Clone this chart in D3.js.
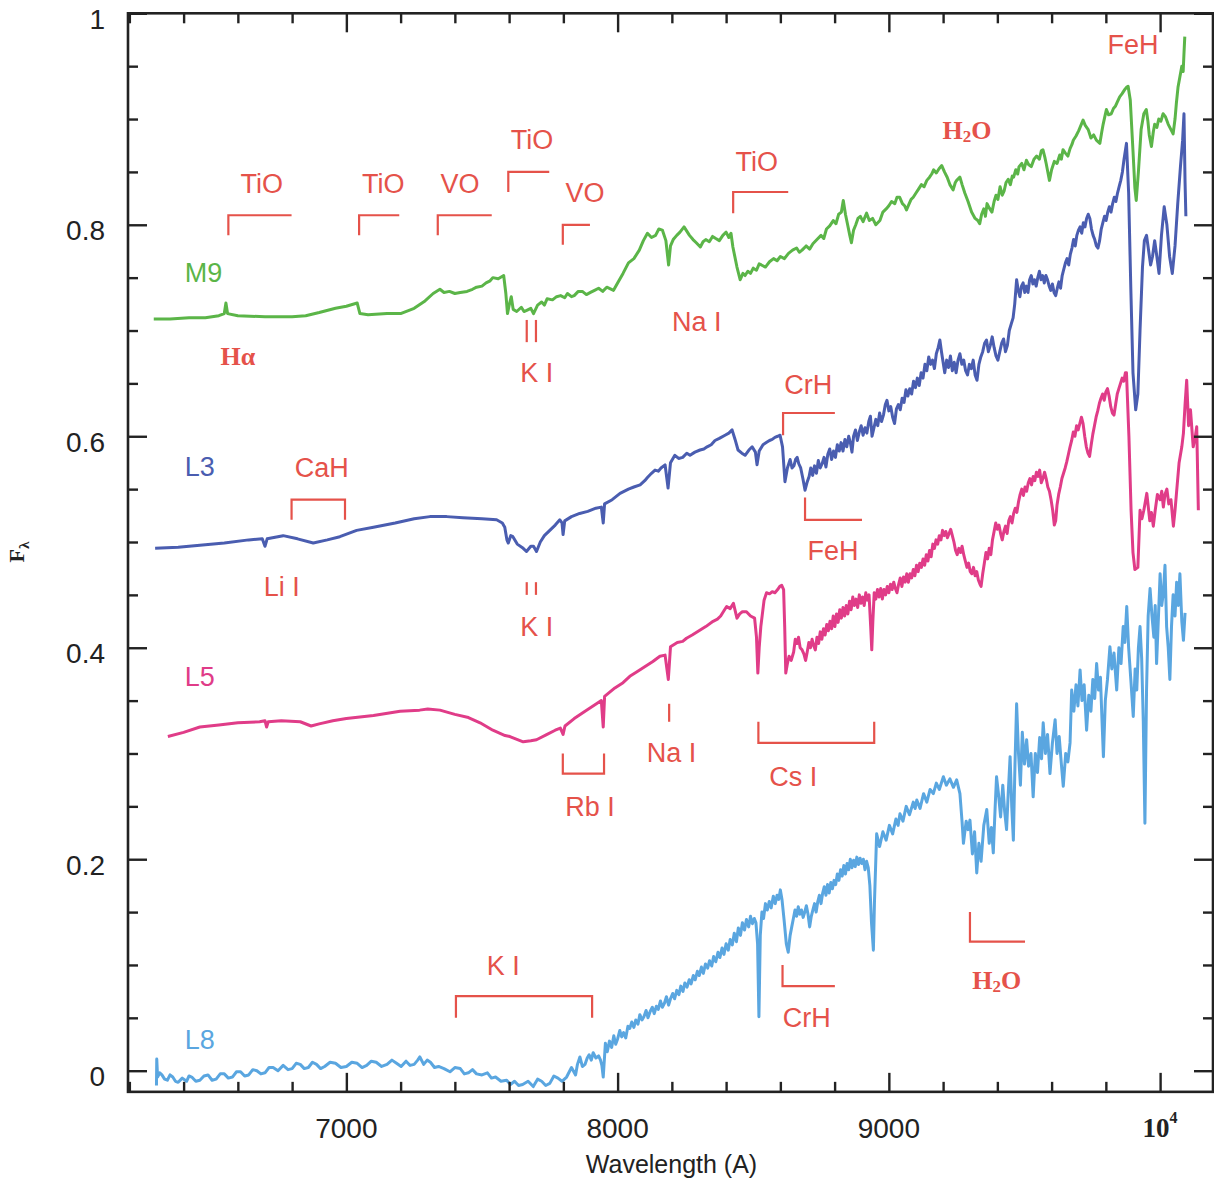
<!DOCTYPE html>
<html><head><meta charset="utf-8">
<script src="https://cdn.jsdelivr.net/npm/d3@7"></script>
<style>
body{margin:0;background:#fff;}
text{font-family:"Liberation Sans",Arial,Helvetica,sans-serif;}
.serif{font-family:"Liberation Serif","Times New Roman",serif;font-weight:bold;}
</style>
</head><body>
<svg id="chart" width="1214" height="1186"></svg>
<script>
// ---------------- data ----------------
const xMajorTicks=[7000,8000,9000,10000];
const xTickLabels=["7000","8000","9000","10^4"];
const yMajorTicks=[0,0.2,0.4,0.6,0.8,1];
const yTickLabels=["0","0.2","0.4","0.6","0.8","1"];
const xTitle="Wavelength (A)";
const seriesNames=["M9","L3","L5","L8"];

const M9=[[6290,0.711],[6350,0.711],[6420,0.712],[6480,0.712],[6530,0.714],[6550,0.716],[6556,0.726],[6562,0.716],[6600,0.714],[6700,0.713],[6800,0.713],[6850,0.714],[6900,0.717],[6960,0.721],[7000,0.723],[7040,0.726],[7050,0.716],[7080,0.715],[7150,0.716],[7200,0.716],[7250,0.721],[7290,0.728],[7320,0.735],[7345,0.739],[7360,0.736],[7380,0.737],[7400,0.735],[7420,0.736],[7445,0.737],[7465,0.739],[7480,0.741],[7500,0.742],[7515,0.745],[7530,0.747],[7540,0.750],[7560,0.749],[7580,0.752],[7588,0.735],[7594,0.716],[7602,0.726],[7608,0.732],[7615,0.720],[7628,0.718],[7645,0.722],[7655,0.718],[7665,0.719],[7680,0.721],[7690,0.716],[7705,0.724],[7720,0.727],[7730,0.724],[7740,0.730],[7760,0.729],[7775,0.732],[7790,0.733],[7805,0.731],[7815,0.735],[7830,0.732],[7840,0.733],[7855,0.737],[7870,0.737],[7885,0.734],[7900,0.736],[7915,0.738],[7930,0.740],[7945,0.737],[7960,0.741],[7985,0.738],[8000,0.745],[8020,0.754],[8040,0.764],[8060,0.768],[8080,0.776],[8095,0.785],[8110,0.792],[8125,0.788],[8140,0.790],[8152,0.796],[8165,0.795],[8178,0.785],[8188,0.762],[8195,0.780],[8205,0.786],[8218,0.790],[8230,0.793],[8245,0.798],[8255,0.794],[8265,0.790],[8278,0.786],[8290,0.783],[8305,0.779],[8315,0.784],[8325,0.786],[8338,0.784],[8350,0.789],[8362,0.787],[8375,0.785],[8388,0.790],[8400,0.793],[8410,0.788],[8418,0.792],[8425,0.779],[8440,0.760],[8452,0.748],[8462,0.754],[8470,0.752],[8480,0.756],[8490,0.754],[8500,0.759],[8512,0.757],[8522,0.763],[8530,0.762],[8545,0.760],[8560,0.765],[8575,0.768],[8588,0.766],[8600,0.770],[8615,0.768],[8630,0.773],[8645,0.776],[8660,0.778],[8670,0.774],[8680,0.776],[8695,0.780],[8708,0.777],[8720,0.782],[8735,0.786],[8750,0.790],[8760,0.787],[8770,0.796],[8782,0.799],[8795,0.804],[8805,0.801],[8815,0.810],[8825,0.812],[8832,0.823],[8840,0.810],[8848,0.800],[8856,0.790],[8862,0.783],[8870,0.795],[8878,0.800],[8886,0.806],[8895,0.808],[8905,0.803],[8918,0.811],[8928,0.804],[8940,0.806],[8952,0.800],[8967,0.804],[8978,0.812],[8990,0.815],[9000,0.818],[9010,0.822],[9022,0.820],[9030,0.826],[9040,0.826],[9050,0.820],[9058,0.818],[9065,0.814],[9075,0.820],[9082,0.824],[9090,0.826],[9100,0.830],[9110,0.834],[9120,0.838],[9130,0.836],[9140,0.842],[9150,0.845],[9158,0.848],[9165,0.852],[9175,0.849],[9185,0.853],[9195,0.856],[9205,0.850],[9215,0.845],[9225,0.838],[9237,0.833],[9245,0.840],[9250,0.842],[9262,0.845],[9270,0.838],[9280,0.830],[9292,0.822],[9305,0.812],[9318,0.806],[9328,0.804],[9335,0.801],[9342,0.810],[9350,0.815],[9356,0.808],[9362,0.820],[9370,0.816],[9380,0.812],[9388,0.822],[9395,0.828],[9402,0.824],[9410,0.836],[9418,0.828],[9425,0.832],[9432,0.840],[9440,0.843],[9448,0.838],[9455,0.846],[9460,0.845],[9468,0.852],[9475,0.848],[9480,0.855],[9490,0.858],[9498,0.852],[9507,0.861],[9515,0.857],[9525,0.855],[9535,0.862],[9545,0.865],[9555,0.862],[9562,0.870],[9568,0.871],[9575,0.864],[9580,0.858],[9586,0.850],[9592,0.842],[9600,0.852],[9610,0.860],[9620,0.858],[9630,0.866],[9636,0.862],[9642,0.871],[9650,0.868],[9660,0.865],[9668,0.872],[9675,0.876],[9680,0.880],[9690,0.884],[9700,0.889],[9708,0.894],[9716,0.899],[9724,0.894],[9735,0.890],[9745,0.882],[9755,0.885],[9765,0.880],[9778,0.877],[9785,0.888],[9790,0.895],[9796,0.902],[9802,0.909],[9810,0.904],[9820,0.905],[9828,0.910],[9835,0.912],[9842,0.916],[9851,0.921],[9860,0.924],[9870,0.928],[9876,0.930],[9882,0.931],[9890,0.918],[9900,0.870],[9907,0.835],[9912,0.823],[9920,0.850],[9930,0.890],[9940,0.905],[9949,0.909],[9955,0.898],[9960,0.885],[9968,0.874],[9975,0.888],[9980,0.895],[9988,0.892],[9995,0.900],[10003,0.898],[10011,0.905],[10020,0.902],[10030,0.895],[10040,0.890],[10048,0.886],[10055,0.900],[10060,0.915],[10066,0.930],[10073,0.940],[10080,0.950],[10085,0.945],[10088,0.962],[10091,0.978]];

const L3=[[6295,0.494],[6380,0.495],[6460,0.497],[6550,0.499],[6640,0.502],[6690,0.503],[6700,0.496],[6708,0.503],[6767,0.506],[6820,0.503],[6878,0.499],[6930,0.502],[6976,0.505],[7038,0.511],[7100,0.514],[7180,0.518],[7250,0.522],[7308,0.524],[7370,0.524],[7430,0.523],[7500,0.522],[7554,0.521],[7575,0.518],[7584,0.514],[7592,0.502],[7597,0.499],[7606,0.506],[7614,0.505],[7630,0.498],[7652,0.494],[7664,0.491],[7680,0.496],[7690,0.496],[7701,0.491],[7715,0.500],[7730,0.506],[7750,0.511],[7770,0.516],[7787,0.521],[7795,0.518],[7799,0.507],[7805,0.520],[7830,0.524],[7860,0.527],[7890,0.529],[7920,0.532],[7940,0.533],[7947,0.518],[7952,0.536],[7980,0.540],[8009,0.546],[8040,0.550],[8060,0.552],[8083,0.554],[8100,0.558],[8110,0.561],[8125,0.565],[8138,0.568],[8150,0.567],[8160,0.570],[8175,0.573],[8186,0.551],[8195,0.575],[8211,0.582],[8225,0.579],[8240,0.580],[8255,0.584],[8267,0.582],[8285,0.585],[8304,0.587],[8318,0.588],[8330,0.590],[8345,0.592],[8359,0.596],[8375,0.598],[8396,0.601],[8410,0.603],[8422,0.606],[8433,0.597],[8444,0.587],[8458,0.584],[8470,0.582],[8484,0.587],[8496,0.590],[8508,0.585],[8514,0.573],[8522,0.586],[8536,0.592],[8548,0.594],[8560,0.596],[8570,0.597],[8580,0.599],[8590,0.600],[8599,0.601],[8608,0.590],[8617,0.557],[8626,0.570],[8636,0.578],[8643,0.570],[8650,0.572],[8656,0.578],[8662,0.580],[8668,0.574],[8675,0.570],[8683,0.560],[8691,0.549],[8698,0.556],[8706,0.562],[8712,0.570],[8719,0.563],[8726,0.572],[8733,0.565],[8740,0.577],[8747,0.570],[8754,0.574],[8761,0.580],[8768,0.571],[8775,0.583],[8782,0.588],[8789,0.578],[8796,0.586],[8803,0.580],[8810,0.592],[8817,0.586],[8824,0.594],[8831,0.586],[8838,0.597],[8845,0.590],[8852,0.600],[8858,0.594],[8864,0.585],[8870,0.600],[8877,0.606],[8884,0.596],[8891,0.604],[8898,0.610],[8905,0.601],[8912,0.608],[8919,0.603],[8926,0.614],[8932,0.619],[8938,0.600],[8945,0.608],[8952,0.616],[8959,0.610],[8966,0.622],[8973,0.614],[8980,0.620],[8987,0.630],[8993,0.634],[9000,0.624],[9007,0.628],[9014,0.618],[9021,0.612],[9028,0.626],[9035,0.630],[9042,0.625],[9049,0.636],[9056,0.632],[9063,0.644],[9070,0.638],[9077,0.645],[9084,0.640],[9091,0.652],[9098,0.646],[9105,0.655],[9112,0.648],[9119,0.660],[9126,0.655],[9133,0.668],[9140,0.662],[9147,0.675],[9154,0.668],[9161,0.672],[9168,0.664],[9175,0.678],[9182,0.684],[9188,0.691],[9194,0.680],[9200,0.670],[9206,0.660],[9213,0.672],[9220,0.665],[9227,0.676],[9234,0.662],[9241,0.670],[9248,0.660],[9255,0.672],[9262,0.678],[9269,0.668],[9276,0.672],[9283,0.662],[9290,0.658],[9297,0.668],[9304,0.664],[9311,0.672],[9318,0.658],[9325,0.653],[9332,0.668],[9339,0.675],[9346,0.680],[9353,0.688],[9360,0.691],[9367,0.680],[9374,0.686],[9381,0.694],[9388,0.684],[9395,0.676],[9402,0.672],[9409,0.680],[9416,0.688],[9423,0.692],[9430,0.680],[9437,0.686],[9444,0.700],[9451,0.706],[9458,0.712],[9464,0.725],[9471,0.748],[9477,0.738],[9483,0.732],[9489,0.742],[9495,0.745],[9501,0.736],[9507,0.742],[9513,0.736],[9519,0.748],[9525,0.752],[9531,0.744],[9537,0.748],[9543,0.742],[9549,0.750],[9555,0.756],[9561,0.748],[9567,0.752],[9573,0.745],[9579,0.752],[9585,0.748],[9591,0.742],[9597,0.738],[9603,0.744],[9609,0.736],[9615,0.733],[9621,0.740],[9627,0.746],[9633,0.740],[9639,0.752],[9645,0.758],[9651,0.764],[9657,0.768],[9663,0.762],[9669,0.772],[9675,0.778],[9681,0.786],[9687,0.780],[9693,0.790],[9699,0.795],[9705,0.798],[9711,0.792],[9717,0.802],[9723,0.798],[9729,0.806],[9735,0.810],[9741,0.806],[9747,0.796],[9753,0.790],[9759,0.786],[9765,0.780],[9771,0.778],[9777,0.785],[9783,0.796],[9789,0.802],[9795,0.808],[9801,0.804],[9807,0.812],[9813,0.817],[9819,0.812],[9825,0.820],[9831,0.826],[9837,0.822],[9843,0.830],[9849,0.836],[9855,0.842],[9861,0.850],[9867,0.862],[9873,0.872],[9876,0.877],[9884,0.830],[9892,0.740],[9900,0.660],[9910,0.625],[9918,0.640],[9926,0.700],[9935,0.760],[9942,0.785],[9950,0.790],[9958,0.775],[9965,0.762],[9972,0.770],[9980,0.785],[9988,0.770],[9996,0.754],[10005,0.790],[10015,0.817],[10025,0.800],[10035,0.770],[10045,0.754],[10055,0.780],[10065,0.820],[10075,0.855],[10083,0.880],[10088,0.905],[10092,0.840],[10095,0.808]];

const L5=[[6342,0.316],[6400,0.320],[6460,0.325],[6530,0.327],[6600,0.329],[6680,0.330],[6700,0.331],[6706,0.325],[6712,0.330],[6760,0.331],[6830,0.330],[6870,0.326],[6900,0.328],[6950,0.331],[7000,0.333],[7100,0.336],[7198,0.340],[7270,0.341],[7300,0.342],[7345,0.341],[7400,0.337],[7450,0.334],[7493,0.329],[7540,0.322],[7585,0.317],[7603,0.316],[7652,0.311],[7680,0.312],[7701,0.313],[7740,0.318],[7770,0.322],[7789,0.324],[7799,0.318],[7806,0.326],[7840,0.333],[7880,0.340],[7922,0.347],[7940,0.350],[7947,0.325],[7952,0.354],[7990,0.362],[8020,0.367],[8045,0.373],[8070,0.377],[8100,0.382],[8130,0.387],[8156,0.392],[8175,0.393],[8187,0.370],[8195,0.401],[8220,0.405],[8240,0.406],[8254,0.409],[8275,0.412],[8300,0.416],[8325,0.420],[8352,0.425],[8368,0.427],[8380,0.430],[8392,0.435],[8402,0.439],[8415,0.437],[8427,0.442],[8440,0.428],[8450,0.432],[8460,0.434],[8475,0.434],[8490,0.430],[8505,0.428],[8512,0.410],[8517,0.376],[8522,0.400],[8528,0.420],[8540,0.445],[8549,0.452],[8560,0.451],[8570,0.453],[8580,0.452],[8590,0.455],[8598,0.458],[8605,0.459],[8612,0.455],[8616,0.420],[8620,0.376],[8626,0.385],[8632,0.392],[8640,0.388],[8649,0.396],[8655,0.408],[8661,0.404],[8667,0.410],[8673,0.400],[8680,0.398],[8687,0.394],[8693,0.388],[8699,0.396],[8705,0.405],[8711,0.400],[8717,0.408],[8723,0.402],[8729,0.398],[8735,0.410],[8741,0.404],[8747,0.415],[8753,0.408],[8759,0.418],[8765,0.412],[8771,0.422],[8777,0.416],[8783,0.425],[8789,0.418],[8795,0.430],[8801,0.420],[8807,0.432],[8813,0.424],[8819,0.436],[8825,0.428],[8831,0.438],[8837,0.430],[8843,0.440],[8849,0.432],[8855,0.444],[8861,0.436],[8867,0.448],[8873,0.440],[8879,0.446],[8885,0.438],[8891,0.450],[8897,0.442],[8903,0.448],[8909,0.440],[8915,0.452],[8921,0.445],[8927,0.450],[8933,0.420],[8937,0.398],[8941,0.425],[8946,0.452],[8952,0.446],[8958,0.455],[8964,0.448],[8970,0.456],[8976,0.446],[8982,0.455],[8988,0.450],[8994,0.458],[9000,0.452],[9006,0.460],[9012,0.455],[9018,0.462],[9024,0.456],[9030,0.452],[9036,0.460],[9042,0.466],[9048,0.458],[9054,0.467],[9060,0.462],[9066,0.470],[9072,0.462],[9078,0.470],[9084,0.466],[9090,0.474],[9096,0.468],[9102,0.478],[9108,0.472],[9114,0.480],[9120,0.476],[9126,0.484],[9132,0.478],[9138,0.488],[9144,0.482],[9150,0.492],[9156,0.486],[9162,0.498],[9168,0.494],[9174,0.502],[9180,0.498],[9186,0.506],[9192,0.502],[9198,0.511],[9204,0.506],[9210,0.510],[9216,0.504],[9222,0.508],[9228,0.512],[9234,0.506],[9240,0.500],[9246,0.492],[9252,0.488],[9258,0.494],[9264,0.490],[9270,0.496],[9276,0.488],[9282,0.482],[9288,0.476],[9294,0.480],[9300,0.472],[9306,0.470],[9312,0.476],[9318,0.468],[9324,0.472],[9330,0.464],[9336,0.460],[9340,0.458],[9346,0.470],[9352,0.480],[9358,0.490],[9364,0.484],[9370,0.494],[9376,0.488],[9382,0.502],[9388,0.510],[9394,0.518],[9400,0.512],[9406,0.516],[9412,0.508],[9418,0.502],[9424,0.510],[9430,0.515],[9436,0.508],[9442,0.520],[9448,0.524],[9454,0.518],[9460,0.527],[9466,0.532],[9472,0.528],[9478,0.538],[9484,0.545],[9490,0.550],[9496,0.544],[9502,0.552],[9508,0.548],[9514,0.556],[9520,0.560],[9526,0.554],[9532,0.562],[9538,0.558],[9544,0.566],[9550,0.562],[9556,0.568],[9562,0.556],[9568,0.560],[9574,0.566],[9580,0.560],[9586,0.552],[9592,0.548],[9598,0.540],[9604,0.530],[9610,0.516],[9615,0.520],[9620,0.535],[9626,0.545],[9632,0.552],[9638,0.560],[9644,0.565],[9650,0.570],[9656,0.576],[9662,0.583],[9668,0.590],[9674,0.596],[9680,0.604],[9686,0.600],[9692,0.610],[9698,0.606],[9704,0.612],[9710,0.618],[9716,0.612],[9722,0.600],[9728,0.590],[9734,0.584],[9740,0.581],[9746,0.592],[9752,0.602],[9758,0.610],[9764,0.618],[9770,0.624],[9776,0.631],[9782,0.636],[9788,0.640],[9794,0.634],[9800,0.642],[9806,0.645],[9812,0.638],[9818,0.628],[9824,0.622],[9830,0.620],[9836,0.630],[9842,0.640],[9848,0.645],[9854,0.650],[9860,0.655],[9866,0.652],[9872,0.660],[9876,0.660],[9885,0.600],[9893,0.530],[9900,0.490],[9907,0.474],[9918,0.476],[9926,0.530],[9933,0.522],[9940,0.530],[9951,0.546],[9962,0.520],[9968,0.528],[9975,0.515],[9982,0.530],[9990,0.545],[10000,0.540],[10006,0.548],[10012,0.533],[10018,0.545],[10025,0.550],[10032,0.536],[10040,0.540],[10049,0.515],[10055,0.530],[10060,0.545],[10070,0.575],[10080,0.590],[10086,0.603],[10092,0.630],[10098,0.653],[10105,0.610],[10112,0.625],[10122,0.590],[10130,0.600],[10135,0.609],[10141,0.530]];

const L8=[[6300,-0.014],[6301,0.011],[6304,-0.006],[6312,-0.002],[6320,-0.004],[6330,-0.008],[6340,-0.009],[6350,-0.004],[6360,-0.006],[6370,-0.010],[6380,-0.011],[6395,-0.007],[6411,-0.010],[6420,-0.005],[6430,-0.006],[6445,-0.010],[6460,-0.009],[6475,-0.005],[6490,-0.004],[6505,-0.009],[6520,-0.008],[6535,-0.003],[6550,-0.003],[6565,-0.007],[6580,-0.006],[6595,-0.001],[6610,-0.001],[6625,-0.005],[6640,-0.004],[6655,0.001],[6670,0.000],[6685,-0.003],[6700,-0.002],[6715,0.003],[6730,0.003],[6748,0.000],[6767,0.005],[6785,0.001],[6800,0.002],[6815,0.007],[6830,0.006],[6845,0.002],[6860,0.003],[6875,0.008],[6890,0.006],[6905,0.002],[6920,0.004],[6940,0.008],[6960,0.007],[6980,0.003],[7000,0.004],[7020,0.008],[7040,0.007],[7058,0.003],[7075,0.005],[7092,0.009],[7110,0.008],[7130,0.004],[7150,0.006],[7168,0.010],[7185,0.007],[7202,0.004],[7220,0.009],[7235,0.005],[7250,0.006],[7263,0.010],[7271,0.013],[7285,0.006],[7298,0.010],[7310,0.008],[7325,0.003],[7340,0.004],[7360,0.002],[7382,-0.001],[7400,0.003],[7420,0.002],[7435,-0.003],[7450,-0.002],[7465,0.001],[7480,-0.003],[7500,-0.004],[7520,-0.002],[7535,-0.007],[7550,-0.006],[7570,-0.010],[7591,-0.009],[7605,-0.013],[7620,-0.010],[7635,-0.014],[7650,-0.013],[7670,-0.010],[7689,-0.015],[7705,-0.008],[7720,-0.010],[7735,-0.014],[7750,-0.012],[7765,-0.005],[7780,-0.007],[7795,-0.010],[7812,-0.006],[7830,0.003],[7845,-0.004],[7852,0.006],[7861,0.013],[7870,0.004],[7880,0.006],[7888,0.012],[7895,0.015],[7903,0.010],[7910,0.017],[7920,0.012],[7930,0.014],[7937,0.010],[7942,0.005],[7947,-0.006],[7955,0.026],[7962,0.018],[7970,0.028],[7978,0.022],[7986,0.033],[7993,0.025],[8000,0.030],[8008,0.038],[8015,0.032],[8022,0.036],[8030,0.031],[8038,0.042],[8045,0.040],[8052,0.046],[8060,0.041],[8067,0.048],[8075,0.044],[8082,0.053],[8090,0.048],[8097,0.051],[8105,0.057],[8112,0.050],[8120,0.056],[8128,0.060],[8135,0.054],[8143,0.061],[8150,0.058],[8158,0.066],[8165,0.060],[8173,0.064],[8180,0.070],[8188,0.062],[8195,0.068],[8203,0.073],[8210,0.068],[8218,0.076],[8226,0.072],[8233,0.080],[8241,0.075],[8248,0.083],[8256,0.079],[8264,0.086],[8271,0.082],[8279,0.090],[8286,0.086],[8294,0.094],[8301,0.090],[8309,0.098],[8316,0.092],[8324,0.101],[8332,0.097],[8339,0.104],[8347,0.099],[8354,0.108],[8362,0.103],[8370,0.112],[8377,0.107],[8385,0.116],[8392,0.110],[8400,0.120],[8408,0.114],[8415,0.124],[8423,0.119],[8430,0.130],[8438,0.122],[8445,0.135],[8453,0.128],[8460,0.140],[8468,0.133],[8475,0.143],[8483,0.136],[8490,0.146],[8497,0.139],[8504,0.144],[8510,0.140],[8516,0.120],[8521,0.051],[8526,0.128],[8532,0.150],[8538,0.144],[8545,0.158],[8552,0.152],[8559,0.160],[8566,0.154],[8574,0.165],[8581,0.158],[8588,0.166],[8594,0.162],[8600,0.171],[8606,0.162],[8614,0.142],[8622,0.120],[8629,0.112],[8636,0.128],[8642,0.136],[8648,0.144],[8654,0.152],[8660,0.146],[8666,0.155],[8672,0.148],[8678,0.152],[8684,0.145],[8690,0.150],[8696,0.156],[8702,0.148],[8708,0.136],[8714,0.146],[8720,0.152],[8726,0.158],[8732,0.150],[8738,0.160],[8744,0.166],[8750,0.158],[8756,0.168],[8762,0.174],[8768,0.166],[8774,0.176],[8780,0.168],[8786,0.178],[8792,0.172],[8798,0.180],[8804,0.176],[8810,0.186],[8816,0.180],[8822,0.190],[8828,0.184],[8834,0.194],[8840,0.186],[8846,0.196],[8852,0.190],[8858,0.200],[8864,0.192],[8870,0.199],[8876,0.193],[8882,0.202],[8888,0.195],[8894,0.201],[8900,0.196],[8906,0.200],[8912,0.190],[8918,0.198],[8924,0.192],[8930,0.175],[8936,0.140],[8943,0.114],[8947,0.160],[8955,0.224],[8966,0.212],[8978,0.226],[8990,0.218],[9002,0.232],[9014,0.224],[9026,0.238],[9034,0.232],[9041,0.243],[9052,0.236],[9064,0.250],[9076,0.242],[9090,0.254],[9097,0.248],[9103,0.256],[9115,0.248],[9128,0.262],[9140,0.254],[9152,0.266],[9164,0.262],[9175,0.272],[9186,0.266],[9201,0.278],[9212,0.270],[9225,0.276],[9238,0.268],[9250,0.275],[9262,0.262],[9270,0.235],[9275,0.215],[9285,0.236],[9292,0.228],[9299,0.237],[9308,0.205],[9316,0.226],[9324,0.187],[9332,0.215],[9340,0.198],[9350,0.232],[9361,0.247],[9370,0.215],[9378,0.230],[9385,0.206],[9392,0.250],[9397,0.278],[9404,0.262],[9412,0.240],[9420,0.270],[9427,0.245],[9434,0.228],[9440,0.262],[9447,0.297],[9453,0.250],[9459,0.218],[9465,0.290],[9471,0.347],[9478,0.300],[9485,0.270],[9492,0.320],[9500,0.290],[9508,0.313],[9515,0.288],[9524,0.300],[9532,0.259],[9540,0.300],[9548,0.282],[9556,0.315],[9563,0.295],[9569,0.329],[9577,0.300],[9585,0.318],[9594,0.281],[9603,0.310],[9613,0.332],[9620,0.300],[9628,0.316],[9636,0.290],[9643,0.269],[9652,0.300],[9660,0.292],[9668,0.310],[9674,0.360],[9682,0.340],[9690,0.365],[9697,0.345],[9705,0.379],[9712,0.350],[9720,0.365],[9729,0.322],[9737,0.355],[9745,0.340],[9752,0.370],[9759,0.352],[9766,0.385],[9773,0.360],[9780,0.372],[9786,0.330],[9791,0.297],[9798,0.350],[9806,0.370],[9815,0.401],[9822,0.380],[9830,0.395],[9840,0.360],[9848,0.400],[9856,0.385],[9864,0.420],[9870,0.405],[9877,0.439],[9884,0.400],[9892,0.370],[9901,0.335],[9908,0.380],[9914,0.360],[9920,0.400],[9926,0.420],[9932,0.390],[9938,0.330],[9944,0.234],[9950,0.360],[9956,0.430],[9963,0.456],[9970,0.430],[9977,0.410],[9982,0.440],[9987,0.385],[9994,0.430],[10000,0.470],[10006,0.440],[10012,0.452],[10018,0.478],[10024,0.420],[10030,0.400],[10036,0.370],[10042,0.420],[10048,0.450],[10055,0.430],[10061,0.462],[10067,0.440],[10073,0.470],[10080,0.425],[10086,0.407],[10092,0.433]];

// series label anchors (wavelength, flux)
const seriesLabelPos=[[6473,0.754],[6460,0.571],[6460,0.372],[6460,0.029]];

// feature markers: polyline points in (wavelength, flux)
const markers=[
 [[6565,0.790],[6565,0.809],[6798,0.809]],          // TiO
 [[7047,0.790],[7047,0.809],[7195,0.809]],          // TiO
 [[7337,0.790],[7337,0.809],[7536,0.809]],          // VO
 [[7597,0.831],[7597,0.850],[7748,0.850]],          // TiO
 [[7798,0.781],[7798,0.800],[7898,0.800]],          // VO
 [[8426,0.811],[8426,0.831],[8629,0.831]],          // TiO
 [[7665,0.710],[7665,0.689]],[[7699,0.710],[7699,0.689]], // K I (M9)
 [[6798,0.521],[6798,0.540],[6995,0.540],[6995,0.521]], // CaH
 [[7665,0.462],[7665,0.450]],[[7699,0.462],[7699,0.450]], // K I (L3)
 [[8610,0.601],[8610,0.622],[8801,0.622]],          // CrH
 [[8691,0.542],[8691,0.521],[8901,0.521]],          // FeH
 [[7798,0.300],[7798,0.281],[7950,0.281],[7950,0.300]], // Rb I
 [[8190,0.347],[8190,0.330]],                       // Na I
 [[8519,0.330],[8519,0.310],[8946,0.310],[8946,0.330]], // Cs I
 [[7404,0.050],[7404,0.0705],[7906,0.0705],[7906,0.050]], // K I (L8)
 [[8608,0.100],[8608,0.080],[8801,0.080]],          // CrH
 [[9299,0.150],[9299,0.122],[9502,0.122]]           // H2O
];
// feature labels: [text, wavelength, flux, serif-bold]
const featureLabels=[
 ["TiO",6688,0.839,0],["TiO",7136,0.839,0],["VO",7419,0.839,0],["TiO",7684,0.880,0],["VO",7880,0.830,0],
 ["TiO",8513,0.859,0],["H2O",9288,0.890,1],["FeH",9900,0.970,0],["Hα",6600,0.675,1],["K I",7702,0.6595,0],
 ["Na I",8292,0.708,0],["CrH",8703,0.6485,0],["CaH",6909,0.5697,0],["Li I",6762,0.4577,0],["K I",7702,0.420,0],
 ["FeH",8794,0.4915,0],["Na I",8199,0.300,0],["Cs I",8648,0.278,0],["Rb I",7898,0.2497,0],["K I",7578,0.099,0],
 ["CrH",8697,0.0496,0],["H2O",9398,0.0858,1]
];

// ---------------- drawing ----------------
const svg=d3.select("#chart");
const L=128,R=1213,T=13.3,B=1091.85;
const x=d3.scaleLinear().domain([6195,10195]).range([L,R]);
const y=d3.scaleLinear().domain([-0.02,1.0]).range([B,T]);
const colors=["#5bb548","#4a5db0","#e03c88","#5aa6e0"];
const red="#e5524a";
const axisColor="#222";

const series=[M9,L3,L5,L8];
const line=d3.line().x(d=>x(d[0])).y(d=>y(d[1]));
series.forEach((s,i)=>{
  svg.append("path").attr("d",line(s)).attr("fill","none")
    .attr("stroke",colors[i]).attr("stroke-width",3).attr("stroke-linejoin","round");
});

// markers
markers.forEach(m=>{
  svg.append("path").attr("d",line(m)).attr("fill","none")
    .attr("stroke",red).attr("stroke-width",2.2);
});

// feature labels
featureLabels.forEach(([t,wl,f,serif])=>{
  const tx=svg.append("text").attr("x",x(wl)).attr("y",y(f)).attr("text-anchor","middle")
    .attr("dominant-baseline","central").attr("fill",red);
  if(serif){
    tx.attr("class","serif").attr("font-size",26);
    if(t==="H2O"){
      tx.append("tspan").text("H");
      tx.append("tspan").text("2").attr("font-size",17).attr("dy",6);
      tx.append("tspan").text("O").attr("dy",-6);
    } else tx.text(t);
  } else {
    tx.attr("font-size",27).text(t);
  }
});

// series labels
seriesNames.forEach((n,i)=>{
  svg.append("text").attr("x",x(seriesLabelPos[i][0])).attr("y",y(seriesLabelPos[i][1]))
    .attr("text-anchor","middle").attr("dominant-baseline","central")
    .attr("font-size",27).attr("fill",colors[i]).text(n);
});

// axes (inward ticks on all sides)
const xMinor=d3.range(6200,10200,200).filter(v=>v%1000!==0);
const yMinor=d3.range(0,1.0001,0.05).map(v=>+v.toFixed(2)).filter(v=>Math.abs(v*5-Math.round(v*5))>1e-6);
function styleAxis(g){g.select(".domain").remove();g.selectAll("line").attr("stroke",axisColor).attr("stroke-width",2.4);}
svg.append("g").attr("transform",`translate(0,${B})`).call(d3.axisBottom(x).tickValues(xMinor).tickSize(-10).tickFormat("")).call(styleAxis);
svg.append("g").attr("transform",`translate(0,${B})`).call(d3.axisBottom(x).tickValues(xMajorTicks).tickSize(-19).tickFormat("")).call(styleAxis);
svg.append("g").attr("transform",`translate(0,${T})`).call(d3.axisTop(x).tickValues(xMinor).tickSize(-10).tickFormat("")).call(styleAxis);
svg.append("g").attr("transform",`translate(0,${T})`).call(d3.axisTop(x).tickValues(xMajorTicks).tickSize(-19).tickFormat("")).call(styleAxis);
svg.append("g").attr("transform",`translate(${L},0)`).call(d3.axisLeft(y).tickValues(yMinor).tickSize(-10).tickFormat("")).call(styleAxis);
svg.append("g").attr("transform",`translate(${L},0)`).call(d3.axisLeft(y).tickValues(yMajorTicks).tickSize(-19).tickFormat("")).call(styleAxis);
svg.append("g").attr("transform",`translate(${R},0)`).call(d3.axisRight(y).tickValues(yMinor).tickSize(-10).tickFormat("")).call(styleAxis);
svg.append("g").attr("transform",`translate(${R},0)`).call(d3.axisRight(y).tickValues(yMajorTicks).tickSize(-19).tickFormat("")).call(styleAxis);
svg.append("rect").attr("x",L).attr("y",T).attr("width",R-L).attr("height",B-T)
  .attr("fill","none").attr("stroke",axisColor).attr("stroke-width",2.6);

// tick labels
xMajorTicks.forEach((v,i)=>{
  const lab=xTickLabels[i];
  const t=svg.append("text").attr("x",x(v)).attr("y",1128).attr("text-anchor","middle")
    .attr("dominant-baseline","central").attr("fill",axisColor);
  if(lab.indexOf("^")>=0){
    const [b,e]=lab.split("^");
    t.attr("class","serif").attr("font-size",27);
    t.append("tspan").text(b);
    t.append("tspan").text(e).attr("font-size",16).attr("dy",-11);
  } else t.attr("font-size",28).text(lab);
});
yMajorTicks.forEach((v,i)=>{
  svg.append("text").attr("x",105).attr("y",y(v)+6).attr("text-anchor","end")
    .attr("dominant-baseline","central").attr("font-size",28).attr("fill",axisColor).text(yTickLabels[i]);
});
svg.append("text").attr("x",(L+R)/2+1).attr("y",1164).attr("text-anchor","middle")
  .attr("dominant-baseline","central").attr("font-size",25).attr("fill",axisColor).text(xTitle);
// y title F_lambda
const yt=svg.append("text").attr("class","serif").attr("transform","translate(24,552) rotate(-90)")
  .attr("text-anchor","middle").attr("font-size",22).attr("fill",axisColor);
yt.append("tspan").text("F");
yt.append("tspan").text("λ").attr("font-size",15).attr("dy",5);
</script>
</body></html>
